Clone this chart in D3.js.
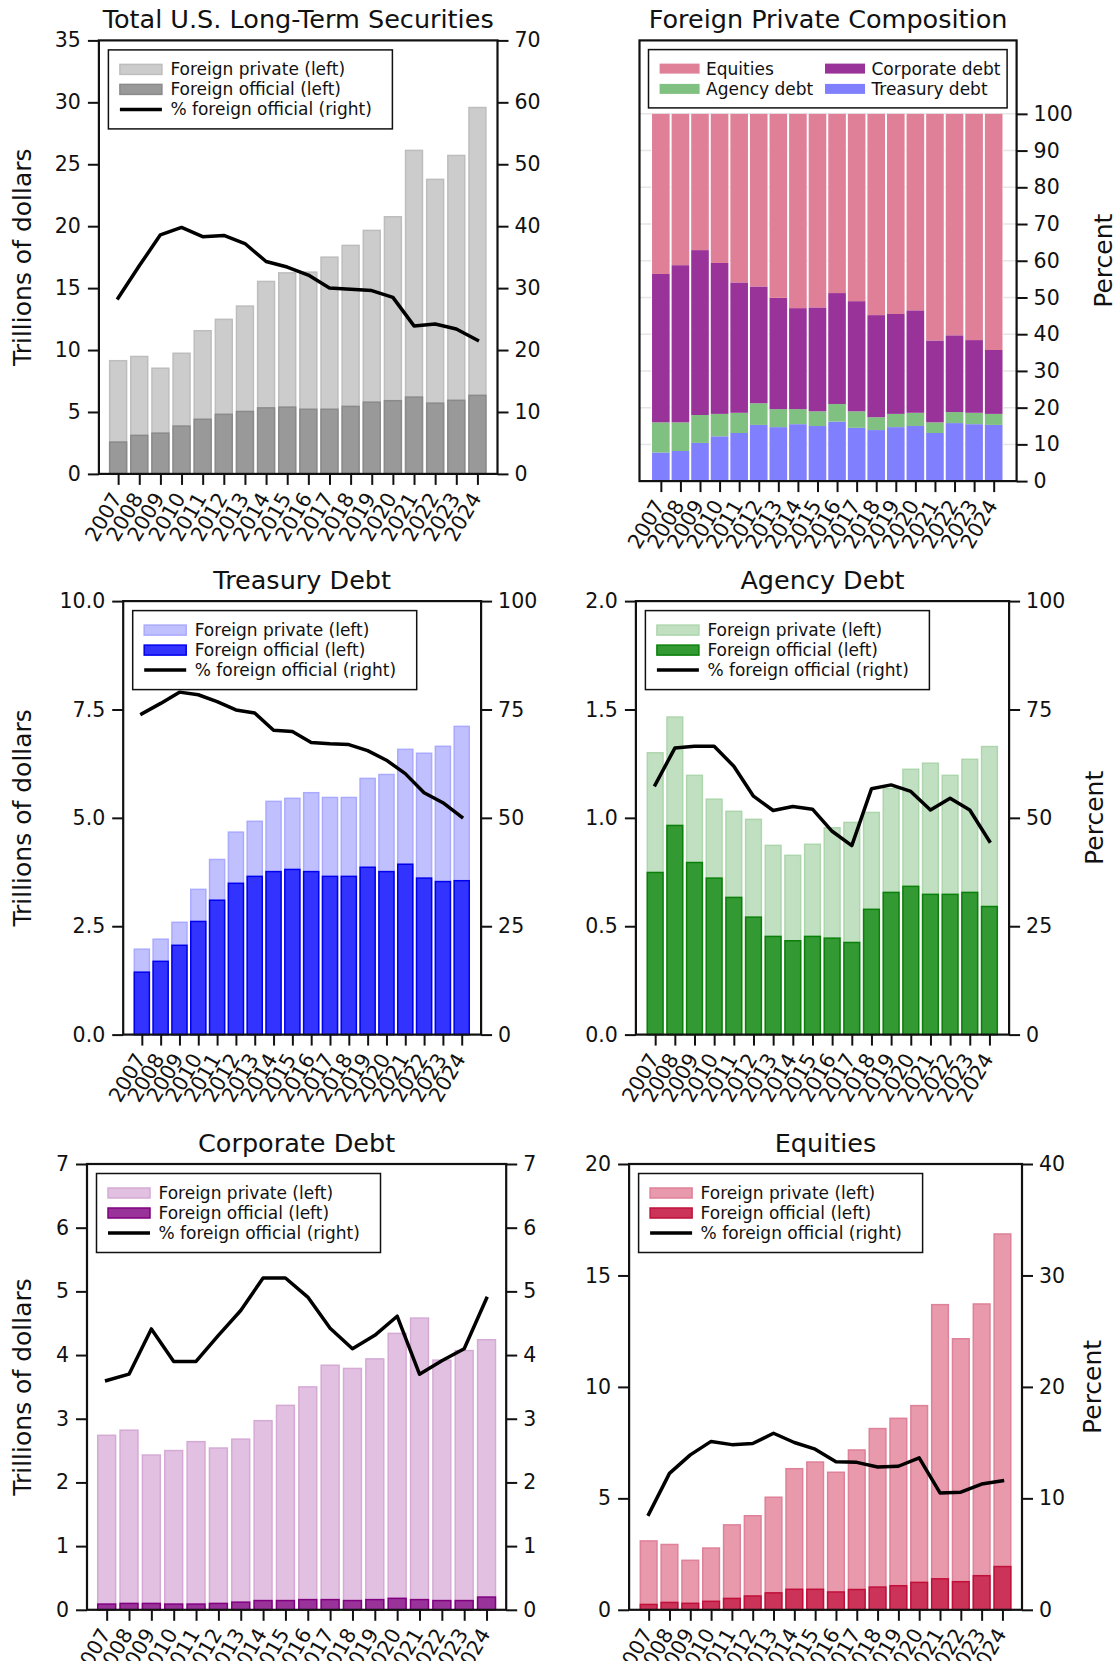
<!DOCTYPE html>
<html lang="en">
<head>
<meta charset="UTF-8">
<title>Foreign holdings of U.S. long-term securities</title>
<script src="https://d3js.org/d3.v7.min.js"></script>
<style>
  body, html { margin: 0; padding: 0; background: #fff; }
  svg { display: block; font-family: "DejaVu Sans", sans-serif; }
</style>
</head>
<body>
<svg id="chart" width="1114" height="1661"></svg>
<script>
// ---- data (trillions of dollars / percent) ----
const years = ["2007","2008","2009","2010","2011","2012","2013","2014","2015",
               "2016","2017","2018","2019","2020","2021","2022","2023","2024"];

const totalAll      = [9.14, 9.48, 8.53, 9.74, 11.56, 12.48, 13.55, 15.54, 16.23, 16.29, 17.50, 18.45, 19.66, 20.76, 26.12, 23.78, 25.71, 29.58];
const totalOfficial = [2.57, 3.11, 3.29, 3.86, 4.41, 4.81, 5.04, 5.33, 5.39, 5.22, 5.22, 5.45, 5.79, 5.91, 6.20, 5.71, 5.94, 6.34];
const totalPct      = [28.4, 33.6, 38.6, 39.8, 38.3, 38.5, 37.2, 34.3, 33.4, 32.1, 30.0, 29.8, 29.6, 28.5, 23.9, 24.2, 23.4, 21.6];

const treasuryAll      = [1.97, 2.20, 2.59, 3.35, 4.04, 4.67, 4.92, 5.38, 5.45, 5.58, 5.47, 5.47, 5.91, 6.00, 6.58, 6.49, 6.65, 7.11];
const treasuryOfficial = [1.44, 1.69, 2.06, 2.61, 3.10, 3.49, 3.65, 3.76, 3.81, 3.76, 3.65, 3.65, 3.86, 3.76, 3.93, 3.61, 3.53, 3.55];
const treasuryPct      = [74.0, 76.4, 79.0, 78.4, 76.8, 74.9, 74.2, 70.2, 69.9, 67.4, 67.1, 66.9, 65.5, 63.3, 60.2, 55.8, 53.5, 50.2];

const agencyAll      = [1.300, 1.465, 1.196, 1.086, 1.030, 0.993, 0.873, 0.827, 0.878, 0.954, 0.979, 1.025, 1.135, 1.224, 1.252, 1.196, 1.270, 1.329];
const agencyOfficial = [0.748, 0.965, 0.794, 0.722, 0.633, 0.542, 0.453, 0.433, 0.453, 0.445, 0.425, 0.578, 0.656, 0.684, 0.647, 0.647, 0.656, 0.591];
const agencyPct      = [57.6, 66.1, 66.5, 66.5, 61.9, 55.0, 51.7, 52.6, 52.0, 46.9, 43.6, 56.7, 57.6, 56.1, 51.8, 54.5, 51.8, 44.6];

const corporateAll      = [2.74, 2.82, 2.43, 2.50, 2.64, 2.54, 2.68, 2.97, 3.21, 3.50, 3.84, 3.79, 3.94, 4.34, 4.58, 3.92, 4.07, 4.24];
const corporateOfficial = [0.09, 0.10, 0.10, 0.09, 0.09, 0.10, 0.12, 0.145, 0.145, 0.16, 0.16, 0.145, 0.16, 0.18, 0.16, 0.145, 0.145, 0.20];
const corporatePct      = [3.60, 3.70, 4.41, 3.90, 3.90, 4.31, 4.70, 5.21, 5.21, 4.91, 4.42, 4.10, 4.31, 4.61, 3.70, 3.91, 4.10, 4.89];

const equitiesAll      = [3.09, 2.93, 2.22, 2.77, 3.81, 4.22, 5.05, 6.33, 6.63, 6.17, 7.17, 8.13, 8.59, 9.16, 13.69, 12.16, 13.72, 16.86];
const equitiesOfficial = [0.24, 0.33, 0.29, 0.38, 0.51, 0.62, 0.76, 0.92, 0.92, 0.80, 0.91, 1.02, 1.08, 1.23, 1.39, 1.26, 1.53, 1.94];
const equitiesPct      = [8.57, 12.24, 13.90, 15.11, 14.82, 14.92, 15.84, 15.01, 14.41, 13.29, 13.23, 12.81, 12.88, 13.64, 10.49, 10.55, 11.28, 11.57];

// foreign private composition, percent of each year
const compTreasury  = [7.8, 8.2, 10.4, 12.2, 13.1, 15.3, 14.7, 15.5, 15.0, 16.2, 14.5, 13.9, 14.7, 15.0, 13.1, 15.8, 15.5, 15.3];
const compAgency    = [8.2, 7.8, 7.6, 6.1, 5.5, 5.9, 4.9, 4.1, 4.0, 4.8, 4.5, 3.5, 3.6, 3.6, 2.9, 3.0, 3.1, 3.0];
const compCorporate = [40.4, 42.8, 44.9, 41.1, 35.5, 31.8, 30.3, 27.5, 28.3, 30.2, 30.0, 27.8, 27.2, 27.9, 22.3, 20.9, 19.8, 17.4];
const compEquities  = [43.6, 41.2, 37.1, 40.6, 45.9, 47.0, 50.1, 52.9, 52.7, 48.8, 51.0, 54.8, 54.5, 53.5, 61.7, 60.3, 61.6, 64.3];

// ticks
const totalLeftTicks    = [0, 5, 10, 15, 20, 25, 30, 35];
const totalRightTicks   = [0, 10, 20, 30, 40, 50, 60, 70];
const treasuryLeftTicks = [0, 2.5, 5, 7.5, 10];
const agencyLeftTicks   = [0, 0.5, 1, 1.5, 2];
const pctTicks100       = [0, 25, 50, 75, 100];
const corporateTicks    = [0, 1, 2, 3, 4, 5, 6, 7];
const equitiesLeftTicks = [0, 5, 10, 15, 20];
const equitiesRightTicks= [0, 10, 20, 30, 40];
const compTicks         = [0, 10, 20, 30, 40, 50, 60, 70, 80, 90, 100];

const seriesLabels = ["Foreign private (left)", "Foreign official (left)", "% foreign official (right)"];
const compLabels = ["Equities", "Corporate debt", "Agency debt", "Treasury debt"];

// ---- drawing ----
const ink = "#111";
const tickFont = 20.5;
const svg = d3.select("#chart");
svg.append("rect").attr("width", 1114).attr("height", 1661).attr("fill", "#fff");

function styleAxis(a) {
  a.attr("font-family", null).attr("font-size", tickFont).attr("color", ink);
  a.select(".domain").remove();
  a.selectAll(".tick line").attr("stroke-width", 2);
}

function addXAxis(g, x, y1) {
  const a = g.append("g").attr("transform", `translate(0,${y1})`)
    .call(d3.axisBottom(x).tickValues(d3.range(years.length))
      .tickFormat(i => years[i]).tickSize(11).tickSizeOuter(0));
  styleAxis(a);
  a.selectAll(".tick text")
    .attr("x", null).attr("y", null).attr("dy", null)
    .attr("text-anchor", "end")
    .attr("transform", "translate(4,24) rotate(-60)");
}

function addTitle(text, cx, y) {
  svg.append("text").attr("x", cx).attr("y", y).attr("text-anchor", "middle")
    .attr("font-size", 25.5).attr("fill", ink).text(text);
}

function addYLabel(text, cx, cy) {
  svg.append("text").attr("transform", `translate(${cx},${cy}) rotate(-90)`)
    .attr("text-anchor", "middle").attr("dy", "0.35em")
    .attr("font-size", 25).attr("fill", ink).text(text);
}

function drawPanel(cfg) {
  const g = svg.append("g");
  const x = d3.scaleLinear().domain(cfg.dom).range([cfg.x0, cfg.x1]);
  const step = x(1) - x(0);
  const yL = d3.scaleLinear().domain([0, d3.max(cfg.leftTicks)]).range([cfg.y1, cfg.y0]);
  const yR = d3.scaleLinear().domain([0, d3.max(cfg.rightTicks)]).range([cfg.y1, cfg.y0]);

  g.selectAll(".all").data(cfg.all).join("rect")
    .attr("x", (d, i) => x(i) - 0.4 * step).attr("width", 0.8 * step)
    .attr("y", d => yL(d)).attr("height", d => yL(0) - yL(d))
    .attr("fill", cfg.c.pf).attr("stroke", cfg.c.pe).attr("stroke-width", 1.5);

  g.selectAll(".off").data(cfg.official).join("rect")
    .attr("x", (d, i) => x(i) - 0.4 * step).attr("width", 0.8 * step)
    .attr("y", d => yL(d)).attr("height", d => yL(0) - yL(d))
    .attr("fill", cfg.c.of).attr("stroke", cfg.c.oe).attr("stroke-width", 1.5);

  g.append("path").datum(cfg.pct)
    .attr("d", d3.line().x((d, i) => x(i)).y(d => yR(d)))
    .attr("fill", "none").attr("stroke", "#000").attr("stroke-width", 3.5)
    .attr("stroke-linejoin", "round").attr("stroke-linecap", "square");

  g.append("rect").attr("x", cfg.x0).attr("y", cfg.y0)
    .attr("width", cfg.x1 - cfg.x0).attr("height", cfg.y1 - cfg.y0)
    .attr("fill", "none").attr("stroke", ink).attr("stroke-width", 2.2);

  const la = g.append("g").attr("transform", `translate(${cfg.x0},0)`)
    .call(d3.axisLeft(yL).tickValues(cfg.leftTicks).tickFormat(cfg.fmt)
      .tickSize(11).tickPadding(7).tickSizeOuter(0));
  styleAxis(la);
  const ra = g.append("g").attr("transform", `translate(${cfg.x1},0)`)
    .call(d3.axisRight(yR).tickValues(cfg.rightTicks).tickFormat(d3.format("d"))
      .tickSize(11).tickPadding(6).tickSizeOuter(0));
  styleAxis(ra);
  addXAxis(g, x, cfg.y1);

  // legend
  const lx = cfg.x0 + 9.5, ly = cfg.y0 + 9.5;
  const lg = g.append("g").attr("transform", `translate(${lx},${ly})`);
  lg.append("rect").attr("width", 284).attr("height", 79)
    .attr("fill", "#fff").attr("stroke", ink).attr("stroke-width", 1.5);
  const rows = [19.5, 39.5, 59.5];
  lg.append("rect").attr("x", 11.5).attr("y", rows[0] - 5).attr("width", 42).attr("height", 10)
    .attr("fill", cfg.c.pf).attr("stroke", cfg.c.pe).attr("stroke-width", 1.5);
  lg.append("rect").attr("x", 11.5).attr("y", rows[1] - 5).attr("width", 42).attr("height", 10)
    .attr("fill", cfg.c.of).attr("stroke", cfg.c.oe).attr("stroke-width", 1.5);
  lg.append("line").attr("x1", 11.5).attr("x2", 53.5).attr("y1", rows[2]).attr("y2", rows[2])
    .attr("stroke", "#000").attr("stroke-width", 3.5);
  lg.selectAll(".lt").data(seriesLabels).join("text")
    .attr("x", 62).attr("y", (d, i) => rows[i]).attr("dy", "0.35em")
    .attr("font-size", 17).attr("fill", ink).text(d => d);

  addTitle(cfg.title, (cfg.x0 + cfg.x1) / 2, cfg.y0 - 12.5);
  if (cfg.ylabelLeft) addYLabel("Trillions of dollars", 22, (cfg.y0 + cfg.y1) / 2);
  if (cfg.ylabelRight) addYLabel("Percent", cfg.ylabelRight, (cfg.y0 + cfg.y1) / 2);
}

drawPanel({
  title: "Total U.S. Long-Term Securities", x0: 98.9, x1: 497.5, y0: 40.4, y1: 473.9, dom: [-0.91, 17.95],
  all: totalAll, official: totalOfficial, pct: totalPct,
  leftTicks: totalLeftTicks, rightTicks: totalRightTicks, fmt: d3.format("d"),
  c: { pf: "#cccccc", pe: "#bdbdbd", of: "#999999", oe: "#8a8a8a" }, ylabelLeft: true
});
drawPanel({
  title: "Treasury Debt", x0: 123.2, x1: 481.1, y0: 601.1, y1: 1034.6, dom: [-0.99, 18.03],
  all: treasuryAll, official: treasuryOfficial, pct: treasuryPct,
  leftTicks: treasuryLeftTicks, rightTicks: pctTicks100, fmt: d3.format(".1f"),
  c: { pf: "#c0c0ff", pe: "#aaaaff", of: "#3333ff", oe: "#0000ee" }, ylabelLeft: true
});
drawPanel({
  title: "Agency Debt", x0: 635.9, x1: 1009.1, y0: 601.1, y1: 1034.6, dom: [-0.98, 18.0],
  all: agencyAll, official: agencyOfficial, pct: agencyPct,
  leftTicks: agencyLeftTicks, rightTicks: pctTicks100, fmt: d3.format(".1f"),
  c: { pf: "#c1e0c1", pe: "#add6ad", of: "#339933", oe: "#0a800a" }, ylabelRight: 1094.5
});
drawPanel({
  title: "Corporate Debt", x0: 87, x1: 506.2, y0: 1164, y1: 1609.8, dom: [-0.88, 17.88],
  all: corporateAll, official: corporateOfficial, pct: corporatePct,
  leftTicks: corporateTicks, rightTicks: corporateTicks, fmt: d3.format("d"),
  c: { pf: "#e1c0e1", pe: "#d5aad5", of: "#993399", oe: "#800080" }, ylabelLeft: true
});
drawPanel({
  title: "Equities", x0: 629.1, x1: 1022, y0: 1164, y1: 1609.8, dom: [-0.94, 17.94],
  all: equitiesAll, official: equitiesOfficial, pct: equitiesPct,
  leftTicks: equitiesLeftTicks, rightTicks: equitiesRightTicks, fmt: d3.format("d"),
  c: { pf: "#e899ab", pe: "#de8199", of: "#cc3358", oe: "#c0103a" }, ylabelRight: 1092.6
});

// ---- composition panel ----
(function () {
  const x0 = 639.5, x1 = 1016.6, y0 = 40.4, y1 = 481.1;
  const g = svg.append("g");
  const x = d3.scaleLinear().domain([-1.09, 18.17]).range([x0, x1]);
  const step = x(1) - x(0);
  const y = d3.scaleLinear().domain([0, 120]).range([y1, y0]);
  const keys = ["treasury", "agency", "corporate", "equities"];
  const colors = { treasury: "#8080ff", agency: "#80c080", corporate: "#993399", equities: "#e08098" };
  const rows = years.map((yr, i) => ({
    treasury: compTreasury[i], agency: compAgency[i], corporate: compCorporate[i], equities: compEquities[i]
  }));
  const stacked = d3.stack().keys(keys)(rows);

  g.selectAll(".grid").data(compTicks.slice(1)).join("line")
    .attr("x1", x0).attr("x2", x1).attr("y1", d => y(d)).attr("y2", d => y(d))
    .attr("stroke", "#e6e6e6").attr("stroke-width", 1.5);

  g.selectAll(".col").data(rows).join("rect")
    .attr("x", (d, i) => x(i) - 0.49 * step).attr("width", 0.98 * step)
    .attr("y", y(100)).attr("height", y(0) - y(100)).attr("fill", "#fff");

  g.selectAll(".layer").data(stacked).join("g").attr("fill", d => colors[d.key])
    .selectAll("rect").data(d => d).join("rect")
    .attr("x", (d, i) => x(i) - 0.45 * step).attr("width", 0.9 * step)
    .attr("y", d => y(d[1])).attr("height", d => y(d[0]) - y(d[1]));

  g.append("rect").attr("x", x0).attr("y", y0).attr("width", x1 - x0).attr("height", y1 - y0)
    .attr("fill", "none").attr("stroke", ink).attr("stroke-width", 2.2);

  const ra = g.append("g").attr("transform", `translate(${x1},0)`)
    .call(d3.axisRight(y).tickValues(compTicks).tickFormat(d3.format("d"))
      .tickSize(11).tickPadding(6).tickSizeOuter(0));
  styleAxis(ra);
  addXAxis(g, x, y1);

  const lg = g.append("g").attr("transform", `translate(${x0 + 9},${y0 + 9.2})`);
  lg.append("rect").attr("width", 358.6).attr("height", 58.3)
    .attr("fill", "#fff").attr("stroke", ink).attr("stroke-width", 1.5);
  const items = [
    { label: compLabels[0], key: "equities",  px: 11.1, tx: 57.5, ry: 19 },
    { label: compLabels[1], key: "corporate", px: 176.5, tx: 222.9, ry: 19 },
    { label: compLabels[2], key: "agency",    px: 11.1, tx: 57.5, ry: 39.3 },
    { label: compLabels[3], key: "treasury",  px: 176.5, tx: 222.9, ry: 39.3 }
  ];
  items.forEach(it => {
    lg.append("rect").attr("x", it.px).attr("y", it.ry - 5).attr("width", 40).attr("height", 10)
      .attr("fill", colors[it.key]);
    lg.append("text").attr("x", it.tx).attr("y", it.ry).attr("dy", "0.35em")
      .attr("font-size", 17).attr("fill", ink).text(it.label);
  });

  addTitle("Foreign Private Composition", (x0 + x1) / 2, y0 - 12.5);
  addYLabel("Percent", 1103, (y0 + y1) / 2);
})();
</script>
</body>
</html>
